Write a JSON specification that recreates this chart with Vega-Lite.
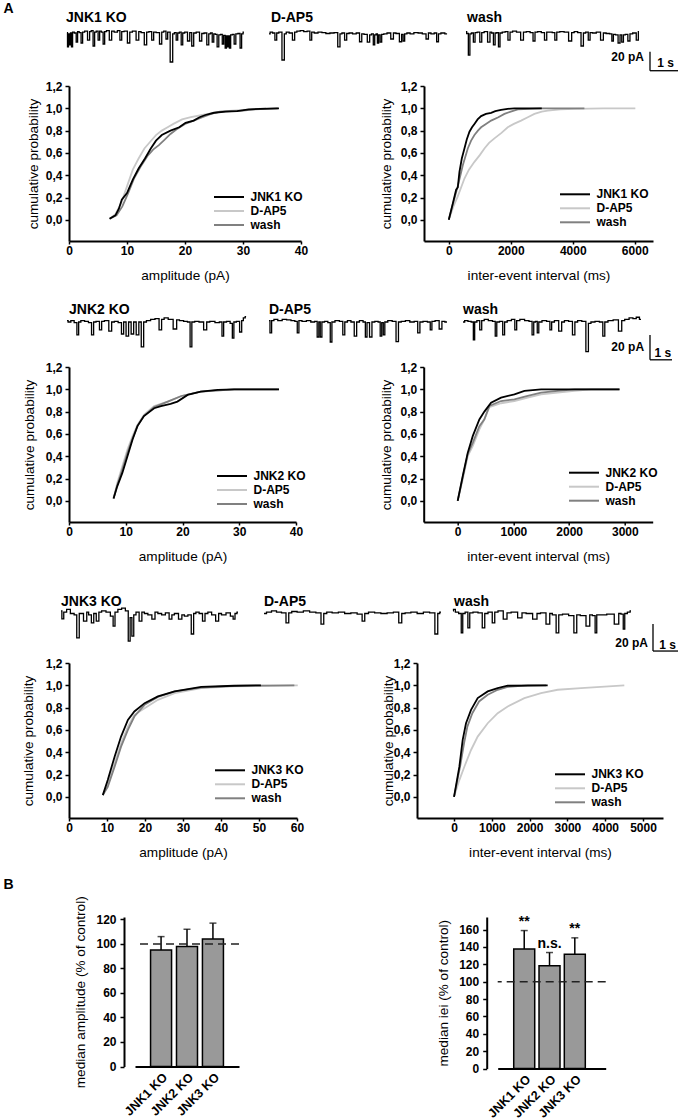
{
"$schema":"https://vega.github.io/schema/vega-lite/v6.json",
"padding":{"left":3,"top":0,"right":0,"bottom":0},
"background":"white",
"title":{"text":["A","B"],"orient":"left","anchor":"end","frame":"bounds","angle":0,"align":"right","baseline":"top","fontSize":14,"fontWeight":"bold","color":"#000000","lineHeight":876,"offset":-2.8,"dy":1.5},
"config":{
 "font":"Liberation Sans",
 "view":{"stroke":null},
 "axis":{"domainColor":"#000000","domainWidth":2,"tickColor":"#000000","tickWidth":1.5,"tickSize":4,"labelFontSize":12,"labelFontWeight":"bold","labelColor":"#000000","titleFontSize":13.6,"titleFontWeight":"normal","titleColor":"#000000","grid":false,"labelPadding":3,"labelOverlap":false},
 "axisX":{"tickSize":3,"labelPadding":1,"titlePadding":12,"labelFlush":false},
 "axisY":{"labelFlush":false},
 "legend":{"labelFontSize":12,"labelFontWeight":"bold","labelColor":"#000000","symbolType":"M-2.31,0H2.31","symbolSize":169,"symbolStrokeWidth":2,"labelOffset":14,"rowPadding":0,"padding":0}
},
"datasets":{
 "traces":[
  {"k":"r1a","t":[0,0.036,0.07,0.107,0.14,0.179,0.22,0.3,0.357,0.4,0.47,0.536,0.58,0.68,0.786,0.83,0.9,0.964,1.01,1.08,1.143,1.19,1.26,1.321,1.37,1.45,1.571,1.62,1.75,1.85,1.929,1.98,2.1,2.214,2.27,2.4,2.536,2.59,2.7,2.821,2.87,2.98,3.071,3.12,3.25,3.357,3.41,3.5,3.571,3.62,3.75,3.8,3.87,3.929,3.98,4.05,4.107,4.16,4.25,4.357,4.41,4.5,4.55,4.68,4.786,4.84,4.95,5.036,5.09,5.16,5.214,5.27,5.33,5.393,5.45,5.52,5.571,5.62,5.679,5.71,5.75,5.78,5.821,5.87,5.94,6.0,6.06,6.15,6.214,6.26,6.32],
   "i":[0.5,-14.7,-1,-12.6,0,-14.7,1,0,-9.5,1.5,0.5,-10.5,1,2,-7.4,1.5,2.5,-13.7,1,2,-7.4,2,1,-11.6,1.5,2.5,-7.4,2,1,2.5,-7.4,1.5,2,-10.5,1,2,-7.4,1.5,0.5,-12.6,1,1.5,-7.4,1,0.5,-11.6,1,2,-6.3,1,-30.5,-1,0.5,-7.4,0,1,-12.6,0,1,-8.4,0.5,-13.7,0,1,-8.4,-0.5,0,-12.6,-1,0,-9.5,-1,-1.5,-14.7,-2,-1.5,-11.6,-2.5,-15.8,-3,-14.7,-3,-15.8,-2,-1.5,-11.6,-1,-0.5,-15.8,-1,1]},
  {"k":"r1b","t":[0,0.08,0.17,0.25,0.3,0.4,0.525,0.57,0.66,0.78,0.893,0.94,1.05,1.18,1.3,1.42,1.5,1.55,1.68,1.82,1.96,2.1,2.25,2.4,2.51,2.56,2.65,2.75,2.8,2.92,3.05,3.18,3.286,3.34,3.45,3.571,3.62,3.7,3.75,3.8,3.85,3.893,3.94,4.0,4.05,4.15,4.28,4.418,4.47,4.6,4.714,4.76,4.821,4.87,4.98,5.1,5.25,5.4,5.55,5.668,5.72,5.85,5.95,6.025,6.08,6.2,6.36],
   "i":[-1,1,0,-7.4,0,1,-28.4,-1,1,0,-7.4,1,2,2.5,1.5,2,-7.4,1,0,1,0.5,-0.5,0,0.5,-14.7,-1,0,-7.4,-0.5,0,-1,0,-9.2,-1,-1.5,-9.5,-2,-1,-12.6,-2,-1,-10.5,-2,-9.5,-1.5,-1,0,-6.3,0,-0.5,-9.2,-1.5,-8.4,-1,0,-1,0.5,0,-1,-6.3,0,-1,0,-9.2,-1,0,-1]},
  {"k":"r1c","t":[0.07,0.12,0.19,0.23,0.3,0.368,0.42,0.52,0.607,0.66,0.78,0.904,0.95,1.02,1.082,1.14,1.2,1.261,1.31,1.42,1.52,1.618,1.67,1.8,1.95,2.096,2.15,2.3,2.42,2.511,2.56,2.7,2.82,2.929,2.98,3.1,3.2,3.286,3.34,3.5,3.65,3.821,3.87,4.0,4.12,4.239,4.29,4.4,4.475,4.53,4.65,4.8,4.954,5.0,5.15,5.25,5.311,5.36,5.46,5.546,5.6,5.668,5.72,5.8,5.904,5.95,6.1,6.204,6.25],
   "i":[1.5,-0.5,-23.2,-1,0,-9.5,0.5,1,-9.5,0.5,1.5,-9.5,1,0,-12.6,0,0.5,-14.7,0,1,1.5,-7.4,1,2,1,-7.4,1,1.5,0.5,-8.4,1,1.5,0.5,-7.4,1,1,0.5,-7.4,1,1.5,1,-8.4,0.5,1.5,0.5,-13.7,0,1,-7.4,0.5,0,1,-7.4,0,-0.5,-1,-8.4,-1.5,-2,-10.5,-2,-9.5,-2,-1.5,-8.4,-1,0,-7.4,1.5]},
  {"k":"r2a","t":[0,0.1,0.25,0.4,0.5,0.56,0.7,0.9,1.05,1.18,1.24,1.4,1.55,1.6,1.8,2.0,2.06,2.25,2.4,2.55,2.6,2.77,2.83,3.0,3.06,3.23,3.3,3.45,3.52,3.7,3.9,4.1,4.27,4.33,4.5,4.7,4.95,5.02,5.2,5.4,5.55,5.64,5.71,5.9,6.1,6.32,6.38,6.6,6.85,7.0,7.09,7.15,7.35,7.48,7.55,7.62,7.78,7.91,7.97,8.06,8.14],
   "i":[1,0,1,-0.5,-9.6,0,1,0.5,-0.5,-9.6,0,0.5,-5.9,0.5,1,-6.7,0,0.5,-0.5,-8.9,0,-10.4,0,-8.9,0,-9.6,0,-18.5,0,1,2,2.5,-5.9,2,3,2,-5.2,1.5,1,0.5,0,-18.5,0,0.5,0,-5.9,0,0.5,-0.5,0,-10.4,0,0.5,-1,-11.9,0,0.5,-7.4,1,3,4]},
  {"k":"r2b","t":[0,0.09,0.15,0.3,0.5,0.7,0.9,1.1,1.25,1.32,1.4,1.6,1.8,2.0,2.15,2.23,2.3,2.36,2.45,2.6,2.75,2.82,2.9,3.1,3.3,3.41,3.48,3.65,3.8,3.95,4.02,4.2,4.35,4.41,4.5,4.64,4.72,4.9,5.02,5.09,5.16,5.23,5.3,5.5,5.7,5.85,5.92,6.1,6.3,6.5,6.7,6.82,6.9,7.1,7.3,7.36,7.45,7.65,7.82,7.9,8.09],
   "i":[1,-8.1,1,2,1,2,1.5,1,0.5,-8.1,1,0.5,1,0,0.5,-11.1,0,-11.1,0,0.5,-0.5,-14.8,0,1,0.5,-9.6,0,1,0,-10.4,0,1,0,-11.1,-0.5,-11.1,0,0.5,0,-10.4,-0.5,-9.6,0,1,0.5,-14.6,0,0.5,1,0,0.5,-8.1,0,0.5,0,-5.9,0.5,1,-5.2,0.5,0]},
  {"k":"r2c","t":[0,0.15,0.3,0.44,0.5,0.56,0.7,0.82,0.88,1.05,1.25,1.43,1.5,1.57,1.75,1.86,1.92,2.1,2.3,2.41,2.47,2.7,2.9,3.1,3.18,3.25,3.34,3.41,3.48,3.7,3.9,4.0,4.06,4.25,4.45,4.52,4.7,4.9,5.05,5.12,5.3,5.5,5.67,5.73,5.9,6.1,6.3,6.41,6.48,6.7,6.95,7.18,7.25,7.45,7.65,7.8,7.95,8.09],
   "i":[0,1,0.5,0,-13.3,0,1,-5.9,1,2,1,0.5,-10.4,0,0.5,-9.6,0,1,2,-5.9,1,2,1,0.5,-9.6,0,0.5,-8.1,0,1,0.5,-5.9,0,1,-6.7,0,1,0.5,-9.6,0,1,0.5,-22,-1,0,0.5,0,-10.4,0,1,1.5,-6.7,1,2,3,2.5,3.5,2]},
  {"k":"r3a","t":[0,0.07,0.15,0.3,0.45,0.6,0.66,0.8,1.0,1.06,1.15,1.28,1.34,1.48,1.55,1.7,1.9,2.05,2.12,2.2,2.35,2.5,2.65,2.73,2.8,2.87,2.95,3.05,3.2,3.27,3.4,3.55,3.72,3.8,3.95,4.1,4.25,4.4,4.47,4.6,4.8,4.87,5.0,5.15,5.27,5.34,5.45,5.6,5.72,5.8,5.95,6.1,6.27,6.34,6.5,6.7,6.85,6.92,7.0,7.08],
   "i":[2,-4,1,3,0,-1,-18.1,0,-5.6,1,-1,-7,0,-5.6,1,2,1,-2,-9.3,1,3,4,2,-20.4,-3,-16.7,-1,1,-5.6,1,0,-1,-4.1,1,0,-1,0.5,-4.1,-1,0,-4.1,-1,-2,-1,-15.2,0,1,0,-5.6,0,1,-1,-5.6,0,-1,0.5,-2,-4.1,0,1]},
  {"k":"r3b","t":[0,0.2,0.4,0.6,0.8,0.96,1.02,1.2,1.45,1.7,1.95,2.2,2.36,2.42,2.6,2.85,3.1,3.35,3.6,3.85,4.0,4.06,4.3,4.55,4.8,5.05,5.3,5.48,5.54,5.75,6.0,6.25,6.5,6.75,6.92,6.98,7.08],
   "i":[0,1,2,1,0.5,-7,0.5,1.5,1,2,1,0.5,-7.8,0,1,0.5,1,0,0.5,-0.5,-5.6,0,1,0.5,0,0.5,1,-7,0,0.5,1,0,1,0.5,-15.2,0,1]},
  {"k":"r3c","t":[0,0.04,0.15,0.3,0.36,0.42,0.55,0.64,0.7,0.9,1.1,1.24,1.3,1.5,1.64,1.7,1.9,2.12,2.2,2.45,2.72,2.8,3.05,3.32,3.4,3.6,3.84,3.9,4.05,4.2,4.26,4.5,4.75,4.92,4.98,5.2,5.44,5.5,5.65,5.72,5.78,6.0,6.3,6.6,6.66,6.78,6.84,6.9,7.05,7.12],
   "i":[2,3,1,0,-14.4,0,1,-10.7,0.5,1,0.5,-10.7,0,1,-7,1,2,-4.1,0.5,1,-3.3,0.5,0,-4.1,0,0.5,-7.8,0,-1,-14.4,-1,-0.5,-1.5,-14.4,-1,-1.5,-9.3,-1,-1.5,-14.4,-1,-1,-0.5,-7.8,0,-0.5,-11.5,0,1,2]}
 ],
 "cdf":[
  {"panel":"r1amp","cond":"D-AP5","x":[7.0,8.0,9.0,10.0,11.0,12.0,13.0,14.0,15.0,16.0,17.0,18.0,19.5,21.0,23.0,25.0,27.0,30.0,34.0],"p":[0.01,0.05,0.15,0.30,0.45,0.55,0.64,0.70,0.76,0.80,0.83,0.86,0.90,0.92,0.94,0.96,0.975,0.985,1.0]},
  {"panel":"r1amp","cond":"wash","x":[7.0,8.2,9.2,10.2,11.2,12.5,13.5,14.5,15.5,16.5,17.5,18.5,20.0,21.5,23.0,24.5,26.0,28.0,30.0,32.0,36.0],"p":[0.01,0.04,0.12,0.24,0.37,0.49,0.57,0.63,0.67,0.72,0.77,0.81,0.86,0.89,0.92,0.95,0.97,0.975,0.98,0.99,1.0]},
  {"panel":"r1amp","cond":"JNK1 KO","x":[7.0,8.0,8.6,9.1,10.0,11.0,12.0,13.1,14.1,15.0,16.0,17.5,19.0,20.1,21.5,22.5,23.5,25.0,27.0,29.0,31.0,33.0,36.2],"p":[0.01,0.04,0.10,0.18,0.24,0.36,0.46,0.55,0.64,0.71,0.76,0.80,0.83,0.87,0.89,0.92,0.94,0.96,0.97,0.975,0.99,0.995,1.0]},
  {"panel":"r1iei","cond":"D-AP5","x":[0,150,290,505,650,828,1000,1150,1300,1473,1700,1903,2100,2333,2550,2763,3000,3193,3600,4054,5000,6020],"p":[0,0.12,0.21,0.37,0.45,0.52,0.58,0.64,0.69,0.73,0.78,0.83,0.86,0.89,0.92,0.95,0.97,0.98,0.99,0.995,1.0,1.0]},
  {"panel":"r1iei","cond":"wash","x":[0,150,290,452,613,720,828,940,1043,1200,1366,1600,1796,2000,2226,2600,2978,3500,4376],"p":[0,0.16,0.30,0.49,0.64,0.71,0.76,0.80,0.83,0.86,0.89,0.92,0.95,0.97,0.99,0.995,1.0,1.0,1.0]},
  {"panel":"r1iei","cond":"JNK1 KO","x":[0,150,237,290,344,420,505,580,667,750,828,930,1043,1200,1366,1500,1688,1900,2118,2500,3000],"p":[0,0.17,0.27,0.29,0.43,0.55,0.64,0.72,0.79,0.83,0.86,0.9,0.93,0.95,0.96,0.975,0.985,0.995,1.0,1.0,1.0]},
  {"panel":"r2amp","cond":"D-AP5","x":[7.85,8.5,9.4,10.3,11.2,12.06,13.2,15.0,17.4,19.8,23.2,29.1,36.7],"p":[0.02,0.16,0.31,0.46,0.58,0.68,0.77,0.85,0.89,0.94,0.98,1.0,1.0]},
  {"panel":"r2amp","cond":"wash","x":[7.85,8.5,9.4,10.3,11.2,12.06,13.2,15.0,17.4,19.8,23.2,29.1,37.0],"p":[0.02,0.14,0.28,0.43,0.56,0.67,0.76,0.84,0.89,0.94,0.98,1.0,1.0]},
  {"panel":"r2amp","cond":"JNK2 KO","x":[7.85,8.5,9.4,10.3,11.2,12.06,13.2,15.0,16.2,17.9,19.1,20.9,23.2,26.2,29.1,37.0],"p":[0.02,0.13,0.25,0.40,0.55,0.67,0.76,0.83,0.85,0.87,0.89,0.95,0.98,0.995,1.0,1.0]},
  {"panel":"r2iei","cond":"D-AP5","x":[0,90,180,270,389,479,569,778,1018,1257,1497,1796,2096,2395,2904],"p":[0,0.19,0.40,0.49,0.64,0.73,0.84,0.875,0.895,0.925,0.955,0.97,0.985,1.0,1.0]},
  {"panel":"r2iei","cond":"wash","x":[0,90,180,270,389,479,569,778,1018,1257,1497,1796,2096,2904],"p":[0,0.21,0.42,0.52,0.67,0.73,0.85,0.895,0.91,0.94,0.97,0.985,1.0,1.0]},
  {"panel":"r2iei","cond":"JNK2 KO","x":[0,90,180,270,389,479,599,778,1018,1198,1497,2096,2904],"p":[0,0.22,0.43,0.58,0.73,0.80,0.88,0.925,0.955,0.985,1.0,1.0,1.0]},
  {"panel":"r3amp","cond":"D-AP5","x":[8.9,10.2,12.0,13.7,15.5,17.2,19.9,23.4,27.8,34.8,43.5,60.2],"p":[0.015,0.12,0.30,0.48,0.63,0.735,0.795,0.87,0.93,0.975,0.99,1.0]},
  {"panel":"r3amp","cond":"wash","x":[8.9,10.2,12.0,13.7,15.5,17.2,19.9,23.4,27.8,34.8,43.5,59.3],"p":[0.015,0.09,0.27,0.45,0.60,0.72,0.825,0.895,0.945,0.98,0.995,1.0]},
  {"panel":"r3amp","cond":"JNK3 KO","x":[8.9,10.2,12.0,13.7,15.5,17.2,19.9,23.4,27.8,34.8,43.5,50.5],"p":[0.015,0.15,0.36,0.54,0.69,0.765,0.84,0.9,0.945,0.985,0.996,1.0]},
  {"panel":"r3iei","cond":"D-AP5","x":[0,141,273,450,626,891,1155,1420,1861,2302,2743,3360,4506],"p":[0,0.15,0.27,0.42,0.54,0.66,0.75,0.81,0.885,0.93,0.96,0.975,1.0]},
  {"panel":"r3iei","cond":"wash","x":[0,160,265,353,485,662,891,1155,1420,1950,2434],"p":[0,0.27,0.48,0.63,0.75,0.855,0.915,0.96,0.985,1.0,1.0]},
  {"panel":"r3iei","cond":"JNK3 KO","x":[0,141,229,317,450,626,891,1155,1420,2478],"p":[0,0.27,0.51,0.66,0.78,0.885,0.945,0.975,0.996,1.0]}
 ]
},
"spacing":0,
"resolve":{"scale":{"color":"independent"}},
"vconcat":[
 {"bounds":"flush","spacing":0,"hconcat":[
  {"width":188,"height":80,"layer":[
    {"data":{"name":"traces"},"transform":[{"filter":"datum.k==='r1a'"},{"flatten":["t","i"]}],"mark":{"type":"line","color":"#000000","strokeWidth":1.3,"interpolate":"step"},
     "encoding":{"x":{"field":"t","type":"quantitative","scale":{"domain":[0.0714,6.786],"nice":false,"zero":false},"axis":null},"y":{"field":"i","type":"quantitative","scale":{"domain":[-49.47,34.74],"nice":false,"zero":false},"axis":null}}},
    {"data":{"values":[{"lab":"JNK1 KO"}]},"mark":{"type":"text","align":"left","baseline":"middle","fontSize":14,"fontWeight":"bold"},
     "encoding":{"x":{"datum":-0.036,"type":"quantitative","scale":{"domain":[0.0714,6.786],"nice":false,"zero":false},"axis":null},"y":{"datum":15.8,"type":"quantitative","scale":{"domain":[-49.47,34.74],"nice":false,"zero":false},"axis":null},"text":{"field":"lab"}}}
  ]},
  {"width":199,"height":80,"layer":[
    {"data":{"name":"traces"},"transform":[{"filter":"datum.k==='r1b'"},{"flatten":["t","i"]}],"mark":{"type":"line","color":"#000000","strokeWidth":1.3,"interpolate":"step"},
     "encoding":{"x":{"field":"t","type":"quantitative","scale":{"domain":[-0.429,6.679],"nice":false,"zero":false},"axis":null},"y":{"field":"i","type":"quantitative","scale":{"domain":[-49.47,34.74],"nice":false,"zero":false},"axis":null}}},
    {"data":{"values":[{"lab":"D-AP5"}]},"mark":{"type":"text","align":"left","baseline":"middle","fontSize":14,"fontWeight":"bold"},
     "encoding":{"x":{"datum":0.07,"type":"quantitative","scale":{"domain":[-0.429,6.679],"nice":false,"zero":false},"axis":null},"y":{"datum":15.8,"type":"quantitative","scale":{"domain":[-49.47,34.74],"nice":false,"zero":false},"axis":null},"text":{"field":"lab"}}}
  ]},
  {"width":222,"height":80,"layer":[
    {"data":{"name":"traces"},"transform":[{"filter":"datum.k==='r1c'"},{"flatten":["t","i"]}],"mark":{"type":"line","color":"#000000","strokeWidth":1.3,"interpolate":"step"},
     "encoding":{"x":{"field":"t","type":"quantitative","scale":{"domain":[-0.286,7.643],"nice":false,"zero":false},"axis":null},"y":{"field":"i","type":"quantitative","scale":{"domain":[-49.47,34.74],"nice":false,"zero":false},"axis":null}}},
    {"data":{"values":[{"lab":"wash"}]},"mark":{"type":"text","align":"left","baseline":"middle","fontSize":14,"fontWeight":"bold"},
     "encoding":{"x":{"datum":0.107,"type":"quantitative","scale":{"domain":[-0.286,7.643],"nice":false,"zero":false},"axis":null},"y":{"datum":15.8,"type":"quantitative","scale":{"domain":[-49.47,34.74],"nice":false,"zero":false},"axis":null},"text":{"field":"lab"}}},
    {"data":{"values":[{}]},"mark":{"type":"rule","color":"#000000","strokeWidth":1.3},
     "encoding":{"x":{"datum":6.643,"type":"quantitative","scale":{"domain":[-0.286,7.643],"nice":false,"zero":false},"axis":null},"y":{"datum":-19.7,"type":"quantitative","scale":{"domain":[-49.47,34.74],"nice":false,"zero":false},"axis":null},"y2":{"datum":-39.7}}},
    {"data":{"values":[{}]},"mark":{"type":"rule","color":"#000000","strokeWidth":1.3},
     "encoding":{"x":{"datum":6.643,"type":"quantitative","scale":{"domain":[-0.286,7.643],"nice":false,"zero":false},"axis":null},"x2":{"datum":7.643},"y":{"datum":-39.7,"type":"quantitative","scale":{"domain":[-49.47,34.74],"nice":false,"zero":false},"axis":null}}},
    {"data":{"values":[{"lab":"20 pA"}]},"mark":{"type":"text","align":"right","baseline":"middle","fontSize":12,"fontWeight":"bold"},
     "encoding":{"x":{"datum":6.43,"type":"quantitative","scale":{"domain":[-0.286,7.643],"nice":false,"zero":false},"axis":null},"y":{"datum":-25.3,"type":"quantitative","scale":{"domain":[-49.47,34.74],"nice":false,"zero":false},"axis":null},"text":{"field":"lab"}}},
    {"data":{"values":[{"lab":"1 s"}]},"mark":{"type":"text","align":"center","baseline":"middle","fontSize":12,"fontWeight":"bold"},
     "encoding":{"x":{"datum":7.196,"type":"quantitative","scale":{"domain":[-0.286,7.643],"nice":false,"zero":false},"axis":null},"y":{"datum":-31.6,"type":"quantitative","scale":{"domain":[-49.47,34.74],"nice":false,"zero":false},"axis":null},"text":{"field":"lab"}}}
  ]}
 ]},
 {"bounds":"flush","spacing":123,"resolve":{"scale":{"color":"independent"}},"hconcat":[
  {"width":232,"height":155,"data":{"name":"cdf"},"transform":[{"filter":"datum.panel==='r1amp'"},{"flatten":["x","p"]}],
   "mark":{"type":"line","strokeWidth":1.8},
   "encoding":{
    "x":{"field":"x","type":"quantitative","scale":{"domain":[0,40],"nice":false,"zero":false},"axis":{"values":[0,10,20,30,40],"title":"amplitude (pA)","format":"d"}},
    "y":{"field":"p","type":"quantitative","scale":{"domain":[-0.19,1.2],"nice":false,"zero":false},"axis":{"values":[0,0.2,0.4,0.6,0.8,1,1.2],"labelExpr":"replace(format(datum.value,'.1f'),'.',',')","title":"cumulative probability","titlePadding":5.3}},
    "color":{"field":"cond","type":"nominal","scale":{"domain":["JNK1 KO","D-AP5","wash"],"range":["#000000","#c8c8c8","#808080"]},"legend":{"title":null,"orient":"none","legendX":152.5,"legendY":103.5}}}},
  {"width":229,"height":155,"data":{"name":"cdf"},"transform":[{"filter":"datum.panel==='r1iei'"},{"flatten":["x","p"]}],
   "mark":{"type":"line","strokeWidth":1.8},
   "encoding":{
    "x":{"field":"x","type":"quantitative","scale":{"domain":[-800,6590],"nice":false,"zero":false},"axis":{"values":[0,2000,4000,6000],"title":"inter-event interval (ms)","format":"d"}},
    "y":{"field":"p","type":"quantitative","scale":{"domain":[-0.19,1.2],"nice":false,"zero":false},"axis":{"values":[0,0.2,0.4,0.6,0.8,1,1.2],"labelExpr":"replace(format(datum.value,'.1f'),'.',',')","title":"cumulative probability","titlePadding":7}},
    "color":{"field":"cond","type":"nominal","scale":{"domain":["JNK1 KO","D-AP5","wash"],"range":["#000000","#c8c8c8","#808080"]},"legend":{"title":null,"orient":"none","legendX":143.5,"legendY":100.8}}}}
 ]},
 {"bounds":"flush","spacing":0,"hconcat":[
  {"width":188,"height":78,"layer":[
    {"data":{"name":"traces"},"transform":[{"filter":"datum.k==='r2a'"},{"flatten":["t","i"]}],"mark":{"type":"line","color":"#000000","strokeWidth":1.3,"interpolate":"step"},
     "encoding":{"x":{"field":"t","type":"quantitative","scale":{"domain":[0.0909,8.636],"nice":false,"zero":false},"axis":null},"y":{"field":"i","type":"quantitative","scale":{"domain":[-28.15,29.63],"nice":false,"zero":false},"axis":null}}},
    {"data":{"values":[{"lab":"JNK2 KO"}]},"mark":{"type":"text","align":"left","baseline":"middle","fontSize":14,"fontWeight":"bold"},
     "encoding":{"x":{"datum":0.09,"type":"quantitative","scale":{"domain":[0.0909,8.636],"nice":false,"zero":false},"axis":null},"y":{"datum":8.9,"type":"quantitative","scale":{"domain":[-28.15,29.63],"nice":false,"zero":false},"axis":null},"text":{"field":"lab"}}}
  ]},
  {"width":198,"height":78,"layer":[
    {"data":{"name":"traces"},"transform":[{"filter":"datum.k==='r2b'"},{"flatten":["t","i"]}],"mark":{"type":"line","color":"#000000","strokeWidth":1.3,"interpolate":"step"},
     "encoding":{"x":{"field":"t","type":"quantitative","scale":{"domain":[-0.545,8.455],"nice":false,"zero":false},"axis":null},"y":{"field":"i","type":"quantitative","scale":{"domain":[-28.15,29.63],"nice":false,"zero":false},"axis":null}}},
    {"data":{"values":[{"lab":"D-AP5"}]},"mark":{"type":"text","align":"left","baseline":"middle","fontSize":14,"fontWeight":"bold"},
     "encoding":{"x":{"datum":0,"type":"quantitative","scale":{"domain":[-0.545,8.455],"nice":false,"zero":false},"axis":null},"y":{"datum":8.9,"type":"quantitative","scale":{"domain":[-28.15,29.63],"nice":false,"zero":false},"axis":null},"text":{"field":"lab"}}}
  ]},
  {"width":223,"height":78,"layer":[
    {"data":{"name":"traces"},"transform":[{"filter":"datum.k==='r2c'"},{"flatten":["t","i"]}],"mark":{"type":"line","color":"#000000","strokeWidth":1.3,"interpolate":"step"},
     "encoding":{"x":{"field":"t","type":"quantitative","scale":{"domain":[-0.364,9.773],"nice":false,"zero":false},"axis":null},"y":{"field":"i","type":"quantitative","scale":{"domain":[-28.15,29.63],"nice":false,"zero":false},"axis":null}}},
    {"data":{"values":[{"lab":"wash"}]},"mark":{"type":"text","align":"left","baseline":"middle","fontSize":14,"fontWeight":"bold"},
     "encoding":{"x":{"datum":0,"type":"quantitative","scale":{"domain":[-0.364,9.773],"nice":false,"zero":false},"axis":null},"y":{"datum":8.9,"type":"quantitative","scale":{"domain":[-28.15,29.63],"nice":false,"zero":false},"axis":null},"text":{"field":"lab"}}},
    {"data":{"values":[{}]},"mark":{"type":"rule","color":"#000000","strokeWidth":1.3},
     "encoding":{"x":{"datum":8.5,"type":"quantitative","scale":{"domain":[-0.364,9.773],"nice":false,"zero":false},"axis":null},"y":{"datum":-9.6,"type":"quantitative","scale":{"domain":[-28.15,29.63],"nice":false,"zero":false},"axis":null},"y2":{"datum":-28}}},
    {"data":{"values":[{}]},"mark":{"type":"rule","color":"#000000","strokeWidth":1.3},
     "encoding":{"x":{"datum":8.5,"type":"quantitative","scale":{"domain":[-0.364,9.773],"nice":false,"zero":false},"axis":null},"x2":{"datum":9.5},"y":{"datum":-28,"type":"quantitative","scale":{"domain":[-28.15,29.63],"nice":false,"zero":false},"axis":null}}},
    {"data":{"values":[{"lab":"20 pA"}]},"mark":{"type":"text","align":"right","baseline":"middle","fontSize":12,"fontWeight":"bold"},
     "encoding":{"x":{"datum":8.23,"type":"quantitative","scale":{"domain":[-0.364,9.773],"nice":false,"zero":false},"axis":null},"y":{"datum":-18.3,"type":"quantitative","scale":{"domain":[-28.15,29.63],"nice":false,"zero":false},"axis":null},"text":{"field":"lab"}}},
    {"data":{"values":[{"lab":"1 s"}]},"mark":{"type":"text","align":"center","baseline":"middle","fontSize":12,"fontWeight":"bold"},
     "encoding":{"x":{"datum":9.08,"type":"quantitative","scale":{"domain":[-0.364,9.773],"nice":false,"zero":false},"axis":null},"y":{"datum":-23.3,"type":"quantitative","scale":{"domain":[-28.15,29.63],"nice":false,"zero":false},"axis":null},"text":{"field":"lab"}}}
  ]}
 ]},
 {"bounds":"flush","spacing":127.7,"resolve":{"scale":{"color":"independent"}},"hconcat":[
  {"width":227,"height":155,"data":{"name":"cdf"},"transform":[{"filter":"datum.panel==='r2amp'"},{"flatten":["x","p"]}],
   "mark":{"type":"line","strokeWidth":1.8},
   "encoding":{
    "x":{"field":"x","type":"quantitative","scale":{"domain":[0,40],"nice":false,"zero":false},"axis":{"values":[0,10,20,30,40],"title":"amplitude (pA)","format":"d"}},
    "y":{"field":"p","type":"quantitative","scale":{"domain":[-0.19,1.2],"nice":false,"zero":false},"axis":{"values":[0,0.2,0.4,0.6,0.8,1,1.2],"labelExpr":"replace(format(datum.value,'.1f'),'.',',')","title":"cumulative probability","titlePadding":8.7}},
    "color":{"field":"cond","type":"nominal","scale":{"domain":["JNK2 KO","D-AP5","wash"],"range":["#000000","#c8c8c8","#808080"]},"legend":{"title":null,"orient":"none","legendX":155.5,"legendY":101.5}}}},
  {"width":229,"height":155,"data":{"name":"cdf"},"transform":[{"filter":"datum.panel==='r2iei'"},{"flatten":["x","p"]}],
   "mark":{"type":"line","strokeWidth":1.8},
   "encoding":{
    "x":{"field":"x","type":"quantitative","scale":{"domain":[-610,3500],"nice":false,"zero":false},"axis":{"values":[0,1000,2000,3000],"title":"inter-event interval (ms)","format":"d"}},
    "y":{"field":"p","type":"quantitative","scale":{"domain":[-0.19,1.2],"nice":false,"zero":false},"axis":{"values":[0,0.2,0.4,0.6,0.8,1,1.2],"labelExpr":"replace(format(datum.value,'.1f'),'.',',')","title":"cumulative probability","titlePadding":6.7}},
    "color":{"field":"cond","type":"nominal","scale":{"domain":["JNK2 KO","D-AP5","wash"],"range":["#000000","#c8c8c8","#808080"]},"legend":{"title":null,"orient":"none","legendX":152.8,"legendY":98.2}}}}
 ]},
 {"bounds":"flush","spacing":0,"hconcat":[
  {"width":182,"height":94,"layer":[
    {"data":{"name":"traces"},"transform":[{"filter":"datum.k==='r3a'"},{"flatten":["t","i"]}],"mark":{"type":"line","color":"#000000","strokeWidth":1.3,"interpolate":"step"},
     "encoding":{"x":{"field":"t","type":"quantitative","scale":{"domain":[0.32,7.6],"nice":false,"zero":false},"axis":null},"y":{"field":"i","type":"quantitative","scale":{"domain":[-32.22,37.41],"nice":false,"zero":false},"axis":null}}},
    {"data":{"values":[{"lab":"JNK3 KO"}]},"mark":{"type":"text","align":"left","baseline":"middle","fontSize":14,"fontWeight":"bold"},
     "encoding":{"x":{"datum":0,"type":"quantitative","scale":{"domain":[0.32,7.6],"nice":false,"zero":false},"axis":null},"y":{"datum":8.5,"type":"quantitative","scale":{"domain":[-32.22,37.41],"nice":false,"zero":false},"axis":null},"text":{"field":"lab"}}}
  ]},
  {"width":196,"height":94,"layer":[
    {"data":{"name":"traces"},"transform":[{"filter":"datum.k==='r3b'"},{"flatten":["t","i"]}],"mark":{"type":"line","color":"#000000","strokeWidth":1.3,"interpolate":"step"},
     "encoding":{"x":{"field":"t","type":"quantitative","scale":{"domain":[-0.52,7.32],"nice":false,"zero":false},"axis":null},"y":{"field":"i","type":"quantitative","scale":{"domain":[-32.22,37.41],"nice":false,"zero":false},"axis":null}}},
    {"data":{"values":[{"lab":"D-AP5"}]},"mark":{"type":"text","align":"left","baseline":"middle","fontSize":14,"fontWeight":"bold"},
     "encoding":{"x":{"datum":0,"type":"quantitative","scale":{"domain":[-0.52,7.32],"nice":false,"zero":false},"axis":null},"y":{"datum":8.5,"type":"quantitative","scale":{"domain":[-32.22,37.41],"nice":false,"zero":false},"axis":null},"text":{"field":"lab"}}}
  ]},
  {"width":231,"height":94,"layer":[
    {"data":{"name":"traces"},"transform":[{"filter":"datum.k==='r3c'"},{"flatten":["t","i"]}],"mark":{"type":"line","color":"#000000","strokeWidth":1.3,"interpolate":"step"},
     "encoding":{"x":{"field":"t","type":"quantitative","scale":{"domain":[-0.24,9.0],"nice":false,"zero":false},"axis":null},"y":{"field":"i","type":"quantitative","scale":{"domain":[-32.22,37.41],"nice":false,"zero":false},"axis":null}}},
    {"data":{"values":[{"lab":"wash"}]},"mark":{"type":"text","align":"left","baseline":"middle","fontSize":14,"fontWeight":"bold"},
     "encoding":{"x":{"datum":0.04,"type":"quantitative","scale":{"domain":[-0.24,9.0],"nice":false,"zero":false},"axis":null},"y":{"datum":8.5,"type":"quantitative","scale":{"domain":[-32.22,37.41],"nice":false,"zero":false},"axis":null},"text":{"field":"lab"}}},
    {"data":{"values":[{}]},"mark":{"type":"rule","color":"#000000","strokeWidth":1.3},
     "encoding":{"x":{"datum":8.0,"type":"quantitative","scale":{"domain":[-0.24,9.0],"nice":false,"zero":false},"axis":null},"y":{"datum":-7.8,"type":"quantitative","scale":{"domain":[-32.22,37.41],"nice":false,"zero":false},"axis":null},"y2":{"datum":-27.8}}},
    {"data":{"values":[{}]},"mark":{"type":"rule","color":"#000000","strokeWidth":1.3},
     "encoding":{"x":{"datum":8.0,"type":"quantitative","scale":{"domain":[-0.24,9.0],"nice":false,"zero":false},"axis":null},"x2":{"datum":9.0},"y":{"datum":-27.8,"type":"quantitative","scale":{"domain":[-32.22,37.41],"nice":false,"zero":false},"axis":null}}},
    {"data":{"values":[{"lab":"20 pA"}]},"mark":{"type":"text","align":"right","baseline":"middle","fontSize":12,"fontWeight":"bold"},
     "encoding":{"x":{"datum":7.8,"type":"quantitative","scale":{"domain":[-0.24,9.0],"nice":false,"zero":false},"axis":null},"y":{"datum":-21.9,"type":"quantitative","scale":{"domain":[-32.22,37.41],"nice":false,"zero":false},"axis":null},"text":{"field":"lab"}}},
    {"data":{"values":[{"lab":"1 s"}]},"mark":{"type":"text","align":"center","baseline":"middle","fontSize":12,"fontWeight":"bold"},
     "encoding":{"x":{"datum":8.58,"type":"quantitative","scale":{"domain":[-0.24,9.0],"nice":false,"zero":false},"axis":null},"y":{"datum":-23.3,"type":"quantitative","scale":{"domain":[-32.22,37.41],"nice":false,"zero":false},"axis":null},"text":{"field":"lab"}}}
  ]}
 ]},
 {"bounds":"flush","spacing":120,"resolve":{"scale":{"color":"independent"}},"hconcat":[
  {"width":228,"height":155,"data":{"name":"cdf"},"transform":[{"filter":"datum.panel==='r3amp'"},{"flatten":["x","p"]}],
   "mark":{"type":"line","strokeWidth":1.8},
   "encoding":{
    "x":{"field":"x","type":"quantitative","scale":{"domain":[0,60],"nice":false,"zero":false},"axis":{"values":[0,10,20,30,40,50,60],"title":"amplitude (pA)","format":"d"}},
    "y":{"field":"p","type":"quantitative","scale":{"domain":[-0.19,1.2],"nice":false,"zero":false},"axis":{"values":[0,0.2,0.4,0.6,0.8,1,1.2],"labelExpr":"replace(format(datum.value,'.1f'),'.',',')","title":"cumulative probability","titlePadding":10.3}},
    "color":{"field":"cond","type":"nominal","scale":{"domain":["JNK3 KO","D-AP5","wash"],"range":["#000000","#c8c8c8","#808080"]},"legend":{"title":null,"orient":"none","legendX":153.5,"legendY":99.8}}}},
  {"width":246,"height":155,"data":{"name":"cdf"},"transform":[{"filter":"datum.panel==='r3iei'"},{"flatten":["x","p"]}],
   "mark":{"type":"line","strokeWidth":1.8},
   "encoding":{
    "x":{"field":"x","type":"quantitative","scale":{"domain":[-980,5530],"nice":false,"zero":false},"axis":{"values":[0,1000,2000,3000,4000,5000],"title":"inter-event interval (ms)","format":"d"}},
    "y":{"field":"p","type":"quantitative","scale":{"domain":[-0.19,1.2],"nice":false,"zero":false},"axis":{"values":[0,0.2,0.4,0.6,0.8,1,1.2],"labelExpr":"replace(format(datum.value,'.1f'),'.',',')","title":"cumulative probability","titlePadding":-2}},
    "color":{"field":"cond","type":"nominal","scale":{"domain":["JNK3 KO","D-AP5","wash"],"range":["#000000","#c8c8c8","#808080"]},"legend":{"title":null,"orient":"none","legendX":145.5,"legendY":103.8}}}}
 ]},
 {"bounds":"flush","spacing":65,"hconcat":[
  {"width":1,"height":1,"data":{"values":[]},"mark":"point","title":{"text":"B","color":"#ffffff","fontSize":14,"fontWeight":"bold","anchor":"start","offset":44}},
  {"bounds":"flush","spacing":258.7,"hconcat":[
   {"width":104,"height":149.5,
    "data":{"values":[{"g":"JNK1 KO","v":95,"e":106},{"g":"JNK2 KO","v":98,"e":112},{"g":"JNK3 KO","v":104,"e":117}]},
    "encoding":{"y":{"field":"v","type":"quantitative","scale":{"domain":[0,122],"nice":false,"zero":false},"axis":{"values":[0,20,40,60,80,100,120],"labelOverlap":false,"title":"median amplitude (% of control)","offset":11,"titlePadding":8,"labelPadding":4}}},
    "layer":[
     {"mark":{"type":"rule","color":"#000000","strokeWidth":1.5},"encoding":{
       "x":{"field":"g","type":"nominal","sort":null,"scale":{"paddingInner":0.19,"paddingOuter":0.6},"axis":{"title":null,"labelAngle":-45,"ticks":false,"labelPadding":4,"labelFontSize":12.5}},
       "y2":{"field":"e"}}},
     {"mark":{"type":"tick","size":7,"thickness":1.5,"color":"#000000"},"encoding":{"x":{"field":"g","type":"nominal","sort":null},"y":{"field":"e"}}},
     {"mark":{"type":"bar","fill":"#999999","stroke":"#000000","strokeWidth":1.5},"encoding":{"x":{"field":"g","type":"nominal","sort":null}}},
     {"data":{"values":[{"ref":100}]},"mark":{"type":"rule","strokeDash":[8,5],"strokeWidth":1.5,"color":"#222222"},"encoding":{"y":{"field":"ref"}}}
    ]},
   {"width":108,"height":151.5,
    "data":{"values":[{"g":"JNK1 KO","v":137.7,"e":158.8,"sig":"**"},{"g":"JNK2 KO","v":118.2,"e":133.5,"sig":"n.s."},{"g":"JNK3 KO","v":131.5,"e":150.4,"sig":"**"}]},
    "encoding":{"y":{"field":"v","type":"quantitative","scale":{"domain":[0,174.4],"nice":false,"zero":false},"axis":{"values":[0,20,40,60,80,100,120,140,160],"labelOverlap":false,"title":"median iei (% of control)","offset":11,"titlePadding":8,"labelPadding":4}}},
    "layer":[
     {"mark":{"type":"rule","color":"#000000","strokeWidth":1.5},"encoding":{
       "x":{"field":"g","type":"nominal","sort":null,"scale":{"paddingInner":0.17,"paddingOuter":0.72,"align":0.44},"axis":{"title":null,"labelAngle":-45,"ticks":false,"labelPadding":4,"labelFontSize":12.5}},
       "y2":{"field":"e"}}},
     {"mark":{"type":"tick","size":7,"thickness":1.5,"color":"#000000"},"encoding":{"x":{"field":"g","type":"nominal","sort":null},"y":{"field":"e"}}},
     {"mark":{"type":"bar","fill":"#999999","stroke":"#000000","strokeWidth":1.5},"encoding":{"x":{"field":"g","type":"nominal","sort":null}}},
     {"data":{"values":[{"ref":100}]},"mark":{"type":"rule","strokeDash":[8,5],"strokeWidth":1.5,"color":"#222222"},"encoding":{"y":{"field":"ref"}}},
     {"mark":{"type":"text","baseline":"bottom","dy":-2,"fontSize":14,"fontWeight":"bold","color":"#000000"},"encoding":{"x":{"field":"g","type":"nominal","sort":null},"y":{"field":"e"},"text":{"field":"sig"}}}
    ]}
  ]}
 ]}
]
}
